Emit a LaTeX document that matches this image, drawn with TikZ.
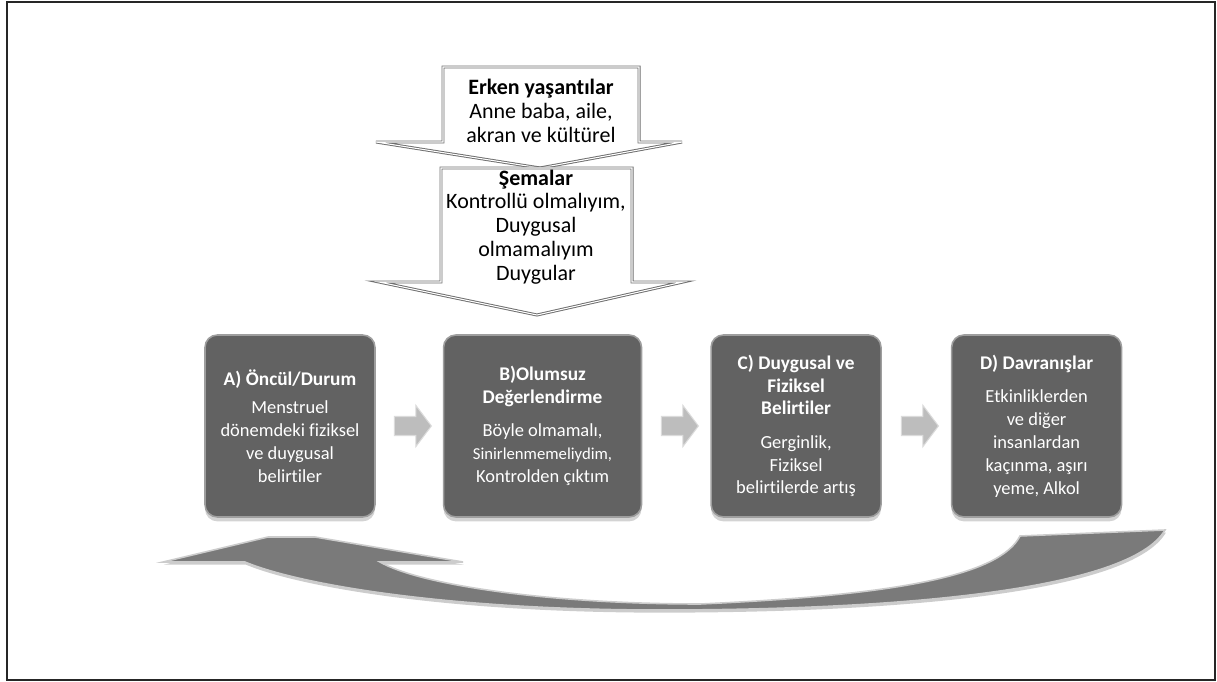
\documentclass[tikz,border=0pt]{standalone}
\usepackage{fontspec}
\setmainfont{Carlito}[Ligatures=NoCommon]
\usetikzlibrary{positioning, calc}
\usetikzlibrary{shapes.arrows, shadows}
\definecolor{stagegray}{HTML}{626262}
\definecolor{loopgray}{HTML}{7A7A7A}
\definecolor{edgegray}{HTML}{6E6E6E}
\tikzstyle{stagebox}=[rectangle,rounded corners=7pt,draw=black!38,line width=0.9pt,
fill=stagegray,text=white,minimum width=3.4cm,minimum height=3.64cm,align=center,
inner sep=2pt,font=\fontsize{10.5}{13}\selectfont,
drop shadow={shadow xshift=0pt,shadow yshift=-2.5pt,opacity=0.35}]
\tikzstyle{steparrow}=[single arrow,fill=black!26,draw=black!14,line width=0.6pt,
minimum height=0.74cm,inner xsep=0pt,inner ysep=0.18cm,single arrow head extend=0.22cm,
single arrow tip angle=106]
\tikzstyle{chevron}=[fill=white,draw=edgegray,line width=0.55pt,double=white,
double distance=0.6pt,line join=miter]
\tikzstyle{chevtext}=[align=center,font=\fontsize{12.5}{13.6}\selectfont]
\tikzstyle{looparrow}=[fill=loopgray,draw=white!80!black,line width=0.9pt,
drop shadow={shadow xshift=0.5pt,shadow yshift=-1.5pt,opacity=0.4}]
\newcommand{\hd}[1]{{\fontsize{11}{13}\selectfont\bfseries #1}}

\begin{document}
\begin{tikzpicture}[x=0.02cm,y=-0.02cm]
    \useasboundingbox (0,0) rectangle (1217,682);
    \draw[line width=1.3pt,black!85] (7,2) rectangle (1215,680);

    % top block arrows
    \path[chevron] (443,67) -- (639,67) -- (639,142) -- (682,142) -- (540,168)
        -- (376,142) -- (443,142) -- cycle;
    \path[chevron] (441,168) -- (632,168) -- (632,282) -- (683,282) -- (537,315)
        -- (379,282) -- (441,282) -- cycle;
    \node[chevtext] (early) at (541,111) {\textbf{Erken yaşantılar}\\Anne baba, aile,\\akran ve kültürel};
    \node[chevtext] (schema) at (536,227) {\textbf{Şemalar}\\Kontrollü olmalıyım,\\Duygusal\\olmamalıyım\\Duygular};

    % stages
    \node[stagebox] (boxA) at (290,426) {\hd{A) Öncül/Durum}\\[3pt]Menstruel\\dönemdeki fiziksel\\ve duygusal\\belirtiler};
    \node[stagebox, minimum width=3.96cm, right=1.34cm of boxA] (boxB) {\hd{B)Olumsuz}\\\hd{Değerlendirme}\\[6pt]Böyle olmamalı,\\{\fontsize{9.5}{13}\selectfont Sinirlenmemeliydim,}\\Kontrolden çıktım};
    \node[stagebox, right=1.36cm of boxB] (boxC) {\hd{C) Duygusal ve}\\\hd{Fiziksel}\\\hd{Belirtiler}\\[6pt]Gerginlik,\\Fiziksel\\belirtilerde artış};
    \node[stagebox, right=1.38cm of boxC] (boxD) {\hd{D) Davranışlar}\\[6pt]Etkinliklerden\\ve diğer\\insanlardan\\kaçınma, aşırı\\yeme, Alkol};

    \node[steparrow] (arrAB) at ($(boxA.east)!0.5!(boxB.west)$) {};
    \node[steparrow] (arrBC) at ($(boxB.east)!0.5!(boxC.west)$) {};
    \node[steparrow] (arrCD) at ($(boxC.east)!0.5!(boxD.west)$) {};

    % feedback arrow
    \path[looparrow] (1165,530) -- (1020,536)
        .. controls (1000,575) and (900,595) .. (700,604)
        .. controls (550,604) and (420,585) .. (380,562)
        -- (463,562) -- (315,537) -- (268,537) -- (163,562) -- (245,562)
        .. controls (300,585) and (450,610) .. (660,610)
        .. controls (900,610) and (1130,590) .. (1165,530) -- cycle;
\end{tikzpicture}
\end{document}
